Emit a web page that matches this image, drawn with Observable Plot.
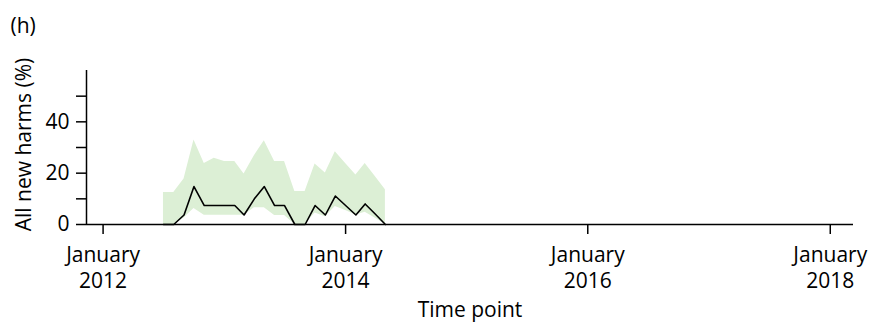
<!DOCTYPE html>
<html><head><meta charset="utf-8">
<script src="https://cdn.jsdelivr.net/npm/d3@7"></script>
<script src="https://cdn.jsdelivr.net/npm/@observablehq/plot@0.6"></script>
<style>
body{margin:0;background:#fff;}
#chart{width:872px;height:322px;}
</style></head><body><div id="chart"></div>
<script>
const months = ["2012-07","2012-08","2012-09","2012-10","2012-11","2012-12","2013-01","2013-02","2013-03","2013-04","2013-05","2013-06","2013-07","2013-08","2013-09","2013-10","2013-11","2013-12","2014-01","2014-02","2014-03","2014-04","2014-05"];
const harms = [0, 0, 3.7, 14.8, 7.4, 7.4, 7.4, 7.4, 3.7, 10, 14.8, 7.4, 7.4, 0, 0, 7.4, 3.7, 11.1, 7.4, 3.7, 8, 4, 0];
const lower = [0, 0, 2.5, 6.2, 3.6, 3.6, 3.6, 3.6, 3.6, 6.5, 6.5, 3.5, 3.5, 0, 0, 4.5, 3, 7, 5.5, 3.7, 4.8, 2.4, 0];
const upper = [12.5, 12.5, 17.7, 32.9, 23.8, 25.8, 24.5, 24.5, 19.7, 26.8, 32.6, 24.5, 24.5, 12.9, 12.9, 23.6, 20.1, 28.3, 23.8, 19.3, 23.8, 18.6, 13.5];
const xTicks = ["2012-01-01","2014-01-01","2016-01-01","2018-01-01"];
const xTickLabels = ["January\n2012","January\n2014","January\n2016","January\n2018"];
const yTicks = [0, 10, 20, 30, 40, 50];
const yTickLabels = ["0", "", "20", "", "40", ""];
const xDomain = ["2011-11-12", "2018-03-12"];
const yDomain = [0, 60];
const panelLabel = "(h)";
const xTitle = "Time point";
const yTitle = "All new harms (%)";

const parse = s => new Date(s + "T00:00:00Z");
const data = months.map((m, i) => ({date: parse(m + "-01"), v: harms[i], lo: lower[i], hi: upper[i]}));
const xLabelMap = new Map(xTicks.map((t, i) => [+parse(t), xTickLabels[i]]));
const yLabelMap = new Map(yTicks.map((t, i) => [t, yTickLabels[i]]));
const font = "'Open Sans', sans-serif";
const fs = 21;

const chart = Plot.plot({
  width: 872, height: 322,
  marginLeft: 86, marginRight: 19, marginTop: 70, marginBottom: 98,
  style: {fontFamily: font, fontSize: fs + "px", color: "#000", background: "#fff", overflow: "visible"},
  x: {type: "utc", domain: xDomain.map(parse)},
  y: {domain: yDomain},
  marks: [
    Plot.areaY(data, {x: "date", y1: "lo", y2: "hi", fill: "#dcefd5"}),
    Plot.lineY(data, {x: "date", y: "v", stroke: "#000", strokeWidth: 1.6}),
    Plot.ruleY([yDomain[0]], {stroke: "#000", strokeWidth: 1.5}),
    Plot.ruleX([parse(xDomain[0])], {y1: yDomain[0], y2: yDomain[1], stroke: "#000", strokeWidth: 1.5}),
    Plot.axisX({ticks: xTicks.map(parse), tickFormat: d => xLabelMap.get(+d), tickSize: 10, tickPadding: 9, label: null, fontSize: fs, lineHeight: 1.25, strokeWidth: 1.5}),
    Plot.axisY({ticks: yTicks, tickFormat: d => yLabelMap.get(d), tickSize: 10, tickPadding: 7, label: null, fontSize: fs, strokeWidth: 1.5}),
    Plot.text([xTitle], {frameAnchor: "bottom", dy: 92, fontSize: fs}),
    Plot.text([yTitle], {frameAnchor: "left", textAnchor: "middle", rotate: -90, dx: -62, dy: -3, fontSize: fs}),
    Plot.text([panelLabel], {frameAnchor: "top-left", textAnchor: "start", dx: -76, dy: -52, fontSize: fs})
  ]
});
document.getElementById("chart").appendChild(chart);
</script></body></html>
